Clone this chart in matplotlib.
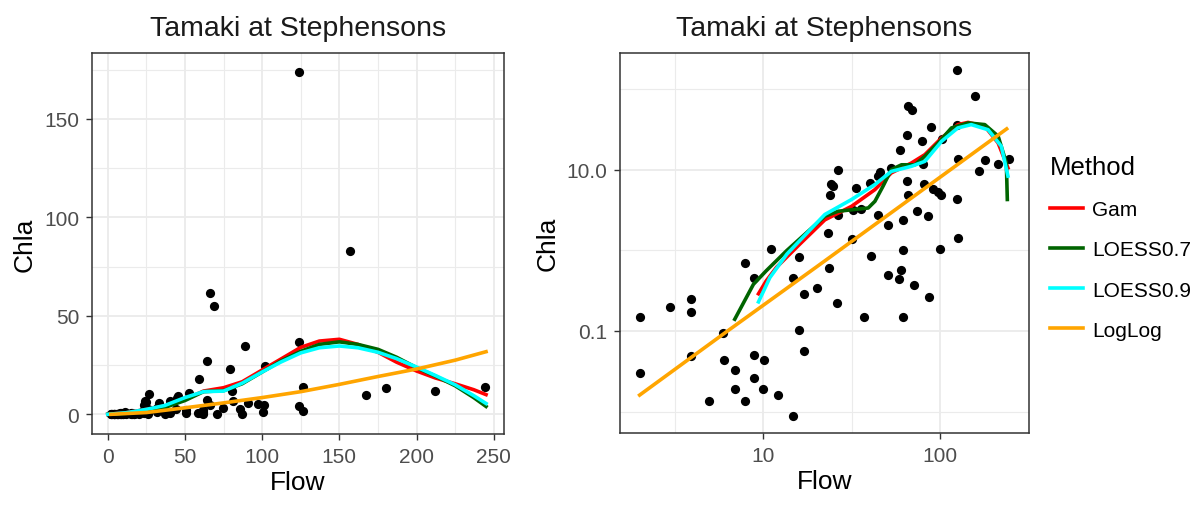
import numpy as np
import matplotlib
matplotlib.use('Agg')
import matplotlib.pyplot as plt
from matplotlib.ticker import FixedLocator, FixedFormatter
from matplotlib.lines import Line2D

plt.rcParams['font.family'] = ['Liberation Sans', 'DejaVu Sans']

# observations (Flow, Chla)
flow = [124, 157, 66, 69, 89, 64.6, 79.4, 124, 102, 59, 26.5, 126.5, 180, 244, 212,
        167, 80.5, 52.6, 45.5, 44.7, 40, 33.5, 24.3, 24.8, 23.8, 64.6, 81, 91, 97.5,
        101, 65.9, 124, 35.6, 32.2, 44.3, 74.5, 85.5, 50.8, 61.5, 26.3, 23.1, 31.8,
        126.5, 40.5, 61.5, 100.5, 23.6, 60.2, 58.7, 50.8, 70.8, 87, 26, 36.9, 61.5,
        11, 7.9, 8.9, 16, 14.8, 20.1, 17.1, 2.0, 2.97, 3.92, 3.92, 5.95, 15.9, 17.1,
        3.92, 2.0, 6.0, 8.9, 10.05, 6.9, 8.9, 6.9, 10, 12.1, 4.96, 7.9, 14.8]
chla = [174, 83, 61.8, 55, 34.5, 27, 22.9, 36.6, 24.3, 17.7, 10.1, 13.7, 13.2, 13.7, 11.9,
        9.7, 11.8, 10.7, 9.36, 8.5, 6.9, 5.97, 6.76, 6.38, 4.93, 7.36, 6.76, 5.8, 5.28,
        4.93, 4.93, 4.4, 3.28, 3.2, 2.76, 3.1, 2.66, 2.06, 2.41, 2.74, 1.65, 1.4,
        1.43, 0.855, 1.0, 1.05, 0.6, 0.57, 0.44, 0.49, 0.376, 0.264, 0.225, 0.15, 0.15,
        1.05, 0.7, 0.46, 0.82, 0.46, 0.34, 0.29, 0.15, 0.2, 0.25, 0.174, 0.095, 0.104, 0.057,
        0.049, 0.03, 0.044, 0.051, 0.044, 0.033, 0.026, 0.019, 0.019, 0.016, 0.0135, 0.0135, 0.0088]

methods = ['Gam', 'LOESS0.7', 'LOESS0.9', 'LogLog']
colors = ['#FF0000', '#006400', '#00FFFF', '#FFA500']

# fitted curves, linear scale panel
lin_x = [0, 12, 25, 37, 50, 62, 75, 87, 100, 112, 125, 137, 150, 162, 175, 187, 200, 212, 225, 237, 245]
gam_lin = [0, 0.8, 2.5, 4.2, 7.5, 11.8, 13.5, 16.5, 22.5, 28, 34, 37.2, 38.1, 35.5, 31.5, 26.5, 22, 18.5, 15.5, 12.5, 10]
lo7_lin = [0, 0.5, 1.8, 3.5, 7, 11.5, 12, 15.5, 21.5, 27, 32, 35.5, 36.8, 35.5, 33, 29, 23.7, 19.5, 14.5, 8.5, 4]
lo9_lin = [0, 0.8, 2.5, 4.5, 8.5, 11.5, 11.8, 15.8, 21.5, 26.5, 31.2, 33.8, 34.7, 33.8, 31.5, 28.3, 24, 19.8, 15, 9.5, 5.5]
ll_lin_x = [2, 25, 50, 75, 100, 125, 150, 175, 200, 225, 245]
ll_lin = [0.0, 0.9, 3.3, 5.8, 8.5, 11.5, 15.2, 19.2, 23.0, 27.5, 31.8]

# fitted curves, log-log panel
gam_log_x = [9.4, 10.4, 11.9, 16.1, 22.3, 31.6, 42.8, 53, 68.8, 82, 102, 126, 144, 179, 213, 242]
gam_log = [0.29, 0.42, 0.62, 1.2, 2.4, 3.54, 5.7, 9.2, 12.2, 15.5, 25, 36.6, 39, 34.9, 21.6, 10.6]
lo7_log_x = [6.9, 8.8, 10.4, 13.6, 22.3, 26.5, 39.2, 42.8, 47.6, 53, 60.5, 72, 82, 97.5, 116, 144, 179, 213, 237, 240]
lo7_log = [0.14, 0.38, 0.56, 1.0, 2.66, 3.07, 3.37, 4.08, 6.3, 10.1, 11.6, 11.6, 14.8, 21.6, 33.3, 38.4, 36.6, 26.3, 12.2, 4.3]
lo9_log_x = [9.4, 10.9, 13.6, 15.4, 22.3, 31.6, 42.8, 53, 68.8, 82, 102, 126, 150, 187, 222, 242]
lo9_log = [0.23, 0.46, 0.9, 1.2, 2.8, 4.3, 6.6, 9.6, 11.1, 12.8, 22.7, 33.3, 36.6, 31.6, 19.7, 8.4]
ll_log_x = [2.0, 6.0, 20, 60, 238]
ll_log = [0.016, 0.093, 0.625, 3.6, 32.4]

LW = 2.6


def style(ax):
    for s in ax.spines.values():
        s.set_color('#333333')
        s.set_linewidth(1.1)
    ax.grid(which='major', color='#EBEBEB', lw=1.3)
    ax.grid(which='minor', color='#EBEBEB', lw=0.8)
    ax.set_axisbelow(True)
    ax.tick_params(which='major', length=4.3, width=1.0, color='#333333',
                   labelsize=15, labelcolor='#4D4D4D', pad=5)
    ax.tick_params(which='minor', length=0)
    ax.set_title('Tamaki at Stephensons', fontsize=20.5, color='#1A1A1A', pad=13)
    ax.set_xlabel('Flow', fontsize=19, labelpad=3)
    ax.set_ylabel('Chla', fontsize=19, labelpad=5)


fig = plt.figure(figsize=(12.04, 5.06), dpi=100)
ax1 = fig.add_axes([92/1204, 71/506, 411.5/1204, 381/506])
ax2 = fig.add_axes([620/1204, 72/506, 408.5/1204, 380/506])

# left: linear
ax1.scatter(flow, chla, s=44, color='black', zorder=3, linewidths=0)
ax1.plot(lin_x, gam_lin, color=colors[0], lw=LW, zorder=4)
ax1.plot(lin_x, lo7_lin, color=colors[1], lw=LW, zorder=4)
ax1.plot(lin_x, lo9_lin, color=colors[2], lw=LW, zorder=4)
ax1.plot(ll_lin_x, ll_lin, color=colors[3], lw=LW, zorder=4)
ax1.set_xlim(-10.2, 256.3)
ax1.set_ylim(-10, 183.5)
ax1.xaxis.set_major_locator(FixedLocator([0, 50, 100, 150, 200, 250]))
ax1.xaxis.set_minor_locator(FixedLocator([25, 75, 125, 175, 225]))
ax1.yaxis.set_major_locator(FixedLocator([0, 50, 100, 150]))
ax1.yaxis.set_minor_locator(FixedLocator([25, 75, 125, 175]))
style(ax1)

# right: log-log
ax2.scatter(flow, chla, s=44, color='black', zorder=3, linewidths=0)
ax2.plot(gam_log_x, gam_log, color=colors[0], lw=LW, zorder=4)
ax2.plot(lo7_log_x, lo7_log, color=colors[1], lw=LW, zorder=4)
ax2.plot(lo9_log_x, lo9_log, color=colors[2], lw=LW, zorder=4)
ax2.plot(ll_log_x, ll_log, color=colors[3], lw=LW, zorder=4)
ax2.set_xscale('log')
ax2.set_yscale('log')
ax2.set_xlim(10**0.19, 10**2.50)
ax2.set_ylim(10**-2.267, 10**2.453)
ax2.xaxis.set_major_locator(FixedLocator([10, 100]))
ax2.xaxis.set_major_formatter(FixedFormatter(['10', '100']))
ax2.xaxis.set_minor_locator(FixedLocator([10**0.5, 10**1.5]))
ax2.yaxis.set_major_locator(FixedLocator([0.1, 10]))
ax2.yaxis.set_major_formatter(FixedFormatter(['0.1', '10.0']))
ax2.yaxis.set_minor_locator(FixedLocator([0.01, 1, 100]))
ax2.xaxis.set_minor_formatter(FixedFormatter(['', '']))
ax2.yaxis.set_minor_formatter(FixedFormatter(['', '', '']))
style(ax2)

handles = [Line2D([], [], color=c, lw=LW) for c in colors]
leg = fig.legend(handles, methods, title='Method', loc='upper left',
                 bbox_to_anchor=(1031/1204, 1 - 137/506), frameon=False,
                 fontsize=15, title_fontsize=18.5, handlelength=1.6,
                 handletextpad=0.45, labelspacing=1.02, alignment='left')

fig.savefig('out.png', dpi=100)
